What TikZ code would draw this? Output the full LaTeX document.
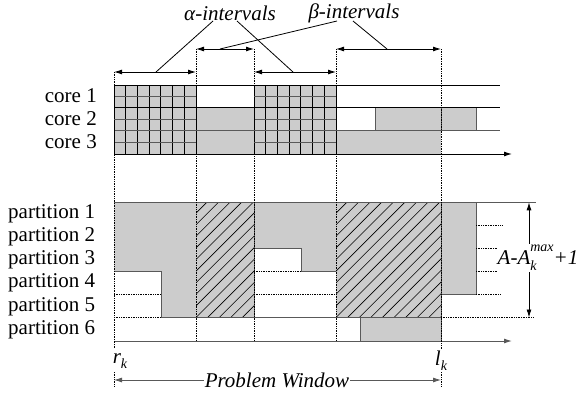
\documentclass[tikz,border=0pt]{standalone}
\usepackage{fontspec}
\setmainfont{Liberation Serif}
\usetikzlibrary{arrows.meta}
\definecolor{boxgray}{gray}{0.8}
\definecolor{edgegray}{gray}{0.35}
\newcommand{\smallidx}{\fontsize{14}{14}\selectfont}
\begin{document}
\begin{tikzpicture}[x=1pt,y=-1pt,
  lbl/.style={font=\fontsize{21}{24}\selectfont, inner sep=0pt},
  ilbl/.style={font=\fontsize{21}{24}\selectfont\itshape, inner sep=1pt},
  dotline/.style={densely dotted, line width=0.7pt},
  blk/.style={line width=1pt, draw=black},
  gedge/.style={line width=1pt, draw=edgegray},
  grayfill/.style={fill=boxgray},
  gridline/.style={line width=0.9pt, draw=black},
  hatchline/.style={line width=0.6pt, draw=black},
  tip/.style={-{Latex[length=8pt,width=5pt]}},
  dbl/.style={line width=0.9pt, {Latex[length=8pt,width=5pt]}-{Latex[length=8pt,width=5pt]}},
  leader/.style={line width=0.8pt, draw=black},
]
\useasboundingbox (0,0) rectangle (584,399);

% ---------- core region fills ----------
\fill[boxgray] (114,85) rectangle (196,154);
\fill[boxgray] (254,85) rectangle (336,154);
\fill[boxgray] (196,107.3) rectangle (254,154);
\fill[boxgray] (336,130.7) rectangle (441,154);
\fill[boxgray] (375.7,107.3) rectangle (476,130.7);
% grids
\foreach \xa in {114,254}{
  \foreach \i in {0,...,7}{
    \draw[gridline] ({\xa+\i*11.714},85) -- ({\xa+\i*11.714},154);
  }
  \foreach \j in {1,3,5}{
    \draw[line width=0.9pt, draw=edgegray] (\xa,{85+\j*11.5}) -- ({\xa+82},{85+\j*11.5});
  }
}
% core block edges
\draw[gedge] (375.7,107.3) -- (375.7,130.7);
\draw[gedge] (476,107.3) -- (476,130.7);
\draw[gedge] (441,107.3) -- (441,130.7);
% core horizontal lines
\coordinate (c0a) at (114,85);   \coordinate (c0b) at (500,85);
\coordinate (c1a) at (114,107.3);\coordinate (c1b) at (500,107.3);
\coordinate (c2a) at (114,130.7);\coordinate (c2b) at (500,130.7);
\coordinate (c3a) at (114,154);  \coordinate (c3b) at (512,154);
\draw[blk] (c0a) -- (c0b);
\draw[blk] (c1a) -- (c1b);
\draw[line width=1pt, draw=edgegray] (c2a) -- (c2b);
\draw[blk, tip] (c3a) -- (c3b);

% ---------- partition region fills ----------
\draw[gedge, grayfill] (114,202.3) -- (196,202.3) -- (196,317.5) -- (161,317.5) -- (161,271.3) -- (114,271.3);
\draw[gedge, grayfill] (254,248.3) -- (301,248.3) -- (301,271.3) -- (336,271.3) -- (336,202.3) -- (254,202.3);
\draw[gedge, grayfill] (441,202.3) -- (476,202.3) -- (476,294.5) -- (441,294.5);
\draw[gedge, grayfill] (441,317.5) -- (360,317.5) -- (360,341) -- (441,341);
% hatched blocks
\foreach \xa/\xb in {196/254, 336/441}{
  \fill[boxgray] (\xa,202.3) rectangle (\xb,317.5);
  \begin{scope}
    \clip (\xa,202.3) rectangle (\xb,317.5);
    \foreach \k in {-10,...,10}{
      \draw[hatchline] ({\xa+\k*11.6},317.5) -- ({\xa+\k*11.6+130},187.5);
    }
  \end{scope}
  \draw[gedge] (\xa,317.5) -- (\xb,317.5);
}
\draw[gedge] (254,317.5) -- (336,317.5);
\draw[gedge] (254,202.3) -- (254,317.5);
\draw[gedge] (441,202.3) -- (441,341);
% top line of partitions
\coordinate (ptopL) at (114,202.3);
\coordinate (ptopR) at (536,202.3);
\draw[gedge] (ptopL) -- (ptopR);
% dotted horizontal lines
\draw[dotline] (114,294.5) -- (161,294.5);
\draw[dotline] (114,317.5) -- (161,317.5);
\draw[dotline] (254,294.5) -- (336,294.5);
\draw[dotline] (254,271.3) -- (301,271.3);
\draw[dotline] (476,225.4) -- (503,225.4);
\draw[dotline] (476,248.3) -- (500,248.3);
\draw[dotline] (476,271.3) -- (500,271.3);
\draw[dotline] (476,294.5) -- (500,294.5);
\draw[dotline] (441,317.5) -- (534,317.5);
% partition axis
\coordinate (paxL) at (114,341);
\coordinate (paxR) at (512,341);
\draw[gedge, tip] (paxL) -- (paxR);

% ---------- vertical dotted lines ----------
\draw[dotline] (114,72) -- (114,349);
\draw[dotline] (114,372) -- (114,386);
\draw[dotline] (196,49) -- (196,341);
\draw[dotline] (254,49) -- (254,341);
\draw[dotline] (336,49) -- (336,341);
\draw[dotline] (441,49) -- (441,349);
\draw[dotline] (441,372) -- (441,386);

% ---------- interval arrows ----------
\coordinate (a1L) at (114,72); \coordinate (a1R) at (196,72);
\coordinate (a2L) at (254,72); \coordinate (a2R) at (336,72);
\coordinate (b1L) at (196,49); \coordinate (b1R) at (254,49);
\coordinate (b2L) at (336,49); \coordinate (b2R) at (441,49);
\draw[dbl] (a1L) -- (a1R);
\draw[dbl] (a2L) -- (a2R);
\draw[dbl] (b1L) -- (b1R);
\draw[dbl] (b2L) -- (b2R);
\coordinate (a1M) at (156,72);
\coordinate (a2M) at (293,72);
\coordinate (b1M) at (220,49);
\coordinate (b2M) at (387,49);

\node[ilbl] (alab) at (230,13) {α-intervals};
\node[ilbl] (blab) at (354,13) {β-intervals};
\coordinate (alA) at (213,21);
\coordinate (alB) at (237,21);
\coordinate (blA) at (337,21);
\coordinate (blB) at (353,21);
\draw[leader] (alA) -- (a1M);
\draw[leader] (alB) -- (a2M);
\draw[leader] (blA) -- (b1M);
\draw[leader] (blB) -- (b2M);

% ---------- A - A_k^max + 1 ----------
\coordinate (dimT) at (529,202.3);
\coordinate (dimB) at (529,317.5);
\draw[dbl] (dimT) -- (dimB);
\node[ilbl, fill=white, inner sep=1pt] (alabel) at (538,258)
  {A-A\raisebox{-0.3em}{\rlap{\smallidx k}}\raisebox{0.6em}{\smallidx max}+1};

% ---------- problem window ----------
\node[ilbl] (rk) at (120,361) {r\raisebox{-0.25em}{\smallidx k}};
\node[ilbl] (lk) at (441,361) {l\raisebox{-0.25em}{\smallidx k}};
\coordinate (pwL) at (114,380);
\coordinate (pwR) at (441,380);
\draw[line width=0.8pt, draw=edgegray, {Latex[length=8pt,width=5pt]}-{Latex[length=8pt,width=5pt]}] (pwL) -- (pwR);
\node[ilbl, fill=white, inner sep=1pt] (pw) at (277,380) {Problem Window};

% ---------- row labels ----------
\node[lbl, anchor=east] (core1) at (97,96) {core 1};
\node[lbl, anchor=east] (core2) at (97,119) {core 2};
\node[lbl, anchor=east] (core3) at (97,142) {core 3};
\node[lbl, anchor=west] (p1) at (8,213.5) {partition 1};
\node[lbl, anchor=west] (p2) at (8,236.8) {partition 2};
\node[lbl, anchor=west] (p3) at (8,260) {partition 3};
\node[lbl, anchor=west] (p4) at (8,283.2) {partition 4};
\node[lbl, anchor=west] (p5) at (8,306.4) {partition 5};
\node[lbl, anchor=west] (p6) at (8,329.6) {partition 6};
\end{tikzpicture}
\end{document}
